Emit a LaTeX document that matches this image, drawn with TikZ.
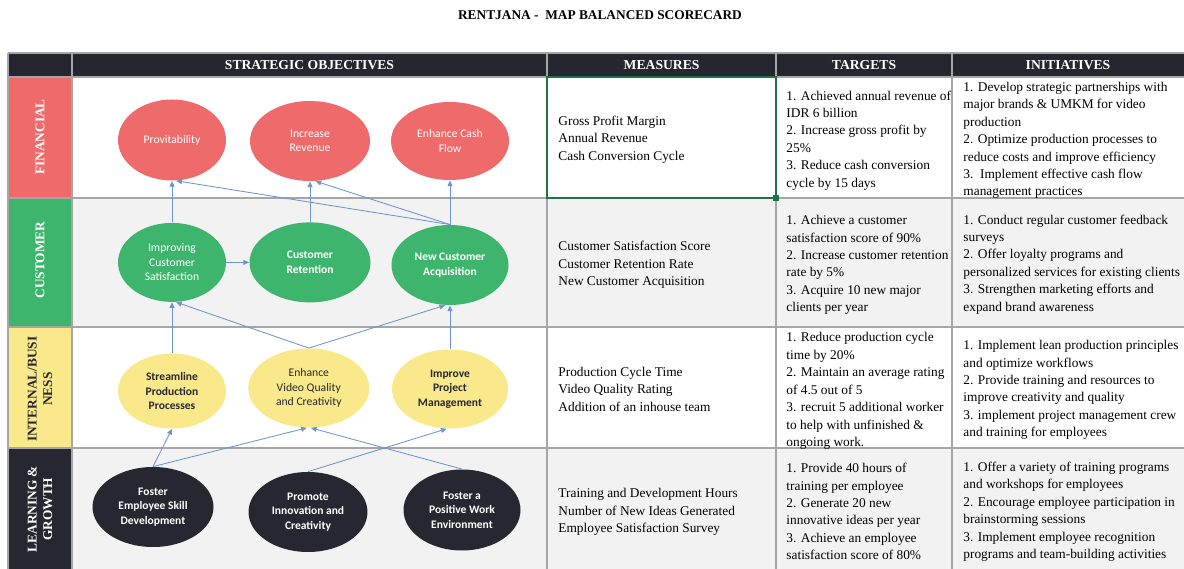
\documentclass[tikz,border=0pt]{standalone}
\usepackage{fontspec}
\setmainfont{Liberation Serif}
\newfontfamily\calibrifont{Carlito}
\usepackage{tikz}
\usetikzlibrary{arrows.meta, shapes.geometric}
\usepackage{xcolor}
\definecolor{finred}{HTML}{EF6A6A}
\definecolor{custgreen}{HTML}{3EB56D}
\definecolor{procyellow}{HTML}{FAE98B}
\definecolor{learndark}{HTML}{272731}
\definecolor{headdark}{HTML}{262630}
\definecolor{cellgray}{HTML}{F2F2F2}
\definecolor{gridgray}{HTML}{A6A6A6}
\definecolor{linkblue}{HTML}{6E93D2}
\definecolor{selgreen}{HTML}{217346}

\begin{document}
\begin{tikzpicture}[
        semithick,
        objective/.style={ellipse, inner sep=0pt, align=center, text=white,
            font=\calibrifont\fontsize{8.3}{10.3}\selectfont},
        boldobjective/.style={objective,
            font=\calibrifont\bfseries\fontsize{8.2}{10.3}\selectfont},
        cell/.style={anchor=west, inner sep=0pt, align=left, yshift=-0.05cm,
            font=\fontsize{9.5}{12.4}\selectfont},
        head/.style={text=white, font=\bfseries\fontsize{9.7}{11}\selectfont},
        rowlabel/.style={rotate=90, align=center, text=white,
            font=\bfseries\fontsize{9.5}{11}\selectfont},
        link/.style={draw=linkblue, line width=0.6pt, -{Triangle[length=4pt, width=3.5pt]}},
        gridline/.style={draw=gridgray, line width=0.9pt}
    ]
        \useasboundingbox (0, 0) rectangle (29.6, 14.2);
        \fill[white] (0, 0) rectangle (29.6, 14.2);
        \node[font=\bfseries\fontsize{9.5}{11}\selectfont] (title) at (15, 13.825) {RENTJANA -\ \ MAP BALANCED SCORECARD};

        \fill[headdark] (0.2, 12.275) rectangle (29.7, 12.875);
        \fill[cellgray] (1.8, 6.025) rectangle (29.7, 9.25);
        \fill[cellgray] (1.8, -0.1) rectangle (29.7, 3);
        \fill[finred] (0.2, 9.25) rectangle (1.8, 12.275);
        \fill[custgreen] (0.2, 6.025) rectangle (1.8, 9.25);
        \fill[procyellow] (0.2, 3) rectangle (1.8, 6.025);
        \fill[learndark] (0.2, -0.1) rectangle (1.8, 3);
        \foreach \y in {12.875, 12.275, 9.25, 6.025, 3}
            \draw[gridline] (0.2, \y) -- (29.7, \y);
        \foreach \x in {0.2, 1.8, 13.675, 19.4, 23.8}
            \draw[gridline] (\x, 12.875) -- (\x, -0.1);
        \draw[selgreen, line width=1.5pt] (13.675, 12.275) rectangle (19.4, 9.25);
        \fill[selgreen] (19.33, 9.18) rectangle (19.47, 9.32);

        \node[head] (hobj) at (7.7375, 12.575) {STRATEGIC OBJECTIVES};
        \node[head] (hmeas) at (16.54, 12.575) {MEASURES};
        \node[head] (htarg) at (21.6, 12.575) {TARGETS};
        \node[head] (hinit) at (26.7, 12.575) {INITIATIVES};

        \node[rowlabel] (lfin) at (1, 10.775) {FINANCIAL};
        \node[rowlabel] (lcust) at (1, 7.7) {CUSTOMER};
        \node[rowlabel, text=learndark] (lproc) at (1, 4.47) {INTERNAL/BUSI\\NESS};
        \node[rowlabel] (llearn) at (1, 1.47) {LEARNING \&\\GROWTH};

        \node[objective, fill=finred, minimum width=2.7cm, minimum height=2.025cm] (prov) at (4.3, 10.7) {Provitability};
        \node[objective, fill=finred, minimum width=3cm, minimum height=2cm] (increv) at (7.75, 10.675) {Increase\\Revenue};
        \node[objective, fill=finred, minimum width=2.95cm, minimum height=1.95cm] (cashflow) at (11.25, 10.675) {Enhance Cash\\Flow};

        \node[objective, fill=custgreen, minimum width=2.7cm, minimum height=1.975cm] (custsat) at (4.3, 7.64) {Improving\\Customer\\Satisfaction};
        \node[boldobjective, fill=custgreen, minimum width=3.025cm, minimum height=2cm] (custret) at (7.75, 7.64) {Customer\\Retention};
        \node[boldobjective, fill=custgreen, minimum width=2.925cm, minimum height=2cm] (newcust) at (11.25, 7.575) {New Customer\\Acquisition};

        \node[boldobjective, fill=procyellow, text=learndark, minimum width=2.7cm, minimum height=1.875cm] (streamline) at (4.3, 4.425) {Streamline\\Production\\Processes};
        \node[objective, fill=procyellow, text=learndark, minimum width=3.025cm, minimum height=1.975cm] (videoq) at (7.72, 4.5) {Enhance\\Video Quality\\and Creativity};
        \node[boldobjective, fill=procyellow, text=learndark, minimum width=2.9cm, minimum height=1.975cm] (projmgmt) at (11.25, 4.475) {Improve\\Project\\Management};

        \node[boldobjective, fill=learndark, minimum width=3.025cm, minimum height=2cm] (skill) at (3.825, 1.525) {Foster\\Employee Skill\\Development};
        \node[boldobjective, fill=learndark, minimum width=2.975cm, minimum height=2cm] (innov) at (7.7, 1.4) {Promote\\Innovation and\\Creativity};
        \node[boldobjective, fill=learndark, minimum width=2.925cm, minimum height=2.025cm] (positive) at (11.55, 1.45) {Foster a\\Positive Work\\Environment};

        \draw[link] (custsat.north) -- (prov.south);
        \draw[link] (custret.north) -- (increv.south);
        \draw[link] (newcust.north) -- (cashflow.south);
        \draw[link] (newcust.north) -- (prov.-84);
        \draw[link] (newcust.north) -- (increv.-82);
        \draw[link] (custsat.east) -- (custret.west);
        \draw[link] (streamline.north) -- (custsat.south);
        \draw[link] (videoq.north) -- (custsat.-84);
        \draw[link] (videoq.north) -- (newcust.-97);
        \draw[link] (projmgmt.north) -- (newcust.south);
        \draw[link] (skill.north) -- (streamline.south);
        \draw[link] (skill.north) -- (videoq.-93);
        \draw[link] (innov.north) -- (projmgmt.-95);
        \draw[link] (positive.north) -- (videoq.-87);

        \node[cell] (mfin) at (13.95, 10.76) {Gross Profit Margin\\Annual Revenue\\Cash Conversion Cycle};
        \node[cell] (tfin) at (19.65, 10.74) {1. Achieved annual revenue of\\IDR 6 billion\\2. Increase gross profit by\\25\%\\3. Reduce cash conversion\\cycle by 15 days};
        \node[cell] (ifin) at (24.075, 10.74) {1. Develop strategic partnerships with\\major brands \& UMKM for video\\production\\2. Optimize production processes to\\reduce costs and improve efficiency\\3.\ \ Implement effective cash flow\\management practices};

        \node[cell] (mcust) at (13.95, 7.63) {Customer Satisfaction Score\\Customer Retention Rate\\New Customer Acquisition};
        \node[cell] (tcust) at (19.65, 7.625) {1. Achieve a customer\\satisfaction score of 90\%\\2. Increase customer retention\\rate by 5\%\\3. Acquire 10 new major\\clients per year};
        \node[cell] (icust) at (24.075, 7.64) {1. Conduct regular customer feedback\\surveys\\2. Offer loyalty programs and\\personalized services for existing clients\\3. Strengthen marketing efforts and\\expand brand awareness};

        \node[cell] (mproc) at (13.95, 4.525) {Production Cycle Time\\Video Quality Rating\\Addition of an inhouse team};
        \node[cell] (tproc) at (19.65, 4.475) {1. Reduce production cycle\\time by 20\%\\2. Maintain an average rating\\of 4.5 out of 5\\3. recruit 5 additional worker\\to help with unfinished \&\\ongoing work.};
        \node[cell] (iproc) at (24.075, 4.5) {1. Implement lean production principles\\and optimize workflows\\2. Provide training and resources to\\improve creativity and quality\\3. implement project management crew\\and training for employees};

        \node[cell] (mlearn) at (13.95, 1.45) {Training and Development Hours\\Number of New Ideas Generated\\Employee Satisfaction Survey};
        \node[cell] (tlearn) at (19.65, 1.46) {1. Provide 40 hours of\\training per employee\\2. Generate 20 new\\innovative ideas per year\\3. Achieve an employee\\satisfaction score of 80\%};
        \node[cell] (ilearn) at (24.075, 1.46) {1. Offer a variety of training programs\\and workshops for employees\\2. Encourage employee participation in\\brainstorming sessions\\3. Implement employee recognition\\programs and team-building activities};
    \end{tikzpicture}
\end{document}
